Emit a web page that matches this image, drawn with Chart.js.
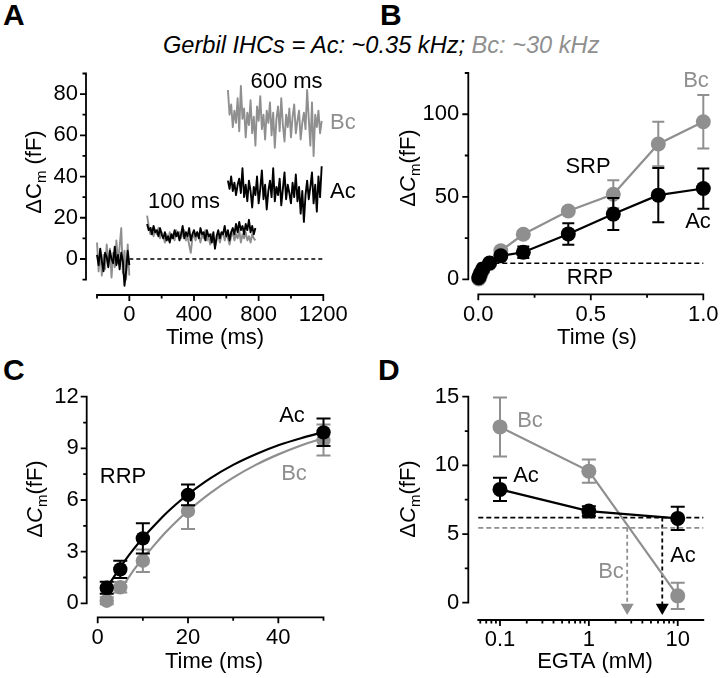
<!DOCTYPE html>
<html><head><meta charset="utf-8">
<script src="https://cdn.jsdelivr.net/npm/chart.js@4.4.0/dist/chart.umd.min.js"></script>
<style>
html,body{margin:0;padding:0;background:#fff;}
#wrap{position:relative;width:720px;height:678px;overflow:hidden;font-family:'Liberation Sans',Arial,sans-serif;}
canvas{position:absolute;left:0;top:0;}
.lab{position:absolute;font-weight:bold;font-size:30px;line-height:30px;color:#000;}
#hdr{position:absolute;left:163px;top:33px;font-style:italic;font-size:23.6px;line-height:24px;white-space:nowrap;color:#000;}
</style></head>
<body><div id="wrap">
<div id="hdr">Gerbil IHCs = Ac: ~0.35 kHz; <span style="color:#8f8f8f">Bc: ~30 kHz</span></div>
<div class="lab" style="left:3px;top:0px">A</div>
<div class="lab" style="left:380px;top:0px">B</div>
<div class="lab" style="left:3px;top:355px">C</div>
<div class="lab" style="left:378px;top:355px">D</div>
<canvas id="cA" width="720" height="678"></canvas>
<canvas id="cB" width="720" height="678"></canvas>
<canvas id="cC" width="720" height="678"></canvas>
<canvas id="cD" width="720" height="678"></canvas>
</div>
<script>
const FONT = "'Liberation Sans', Arial, sans-serif";
const FS = 22;
const BLACK = '#000000';
const GRAY = '#8f8f8f';

// ---------- Panel A : capacitance traces ----------
const aBaseT = [-200,-190,-180,-170,-160,-150,-140,-130,-120,-110,-100,-90,-80,-70,-60,-50,-40,-30,-20,-10,0];
const aBaseAc = [2,-3,5,-1,-6,3,1,-4,4,0,-2,6,-3,2,-5,3,-1,-13,-6,4,-3];
const aBaseBc = [8,-6,4,-8,2,-5,7,-3,5,-9,3,-4,9,-2,6,15,-7,4,-10,7,-8];
const a100T = [110,120,130,140,150,160,170,180,190,200,210,220,230,240,250,260,270,280,290,300,310,320,330,340,350,360,370,380,390,400,410,420,430,440,450,460,470,480,490,500,510,520,530,540,550,560,570,580,590,600,610,620,630,640,650,660,670,680,690,700,710,720,730,740,750,760,770,780];
const a100Ac = [17,14,15,12,16,13,14,11,15,12,10,13,9,11,8,12,10,14,11,13,9,12,16,10,13,11,15,9,12,14,11,13,10,15,12,13,9,14,11,12,8,13,5,11,14,10,13,12,16,11,14,9,13,15,12,17,13,18,14,16,12,17,14,19,13,16,12,15];
const a100Bc = [21,16,12,15,11,14,12,15,10,13,11,8,12,9,13,10,12,9,14,11,13,10,12,14,9,11,7,3,10,12,9,13,11,8,12,10,14,9,11,7,12,10,6,9,12,8,11,13,9,12,10,7,11,13,9,12,10,14,8,12,10,13,9,11,8,12,10,9];
const a600T = [610,620,630,640,650,660,670,680,690,700,710,720,730,740,750,760,770,780,790,800,810,820,830,840,850,860,870,880,890,900,910,920,930,940,950,960,970,980,990,1000,1010,1020,1030,1040,1050,1060,1070,1080,1090,1100,1110,1120,1130,1140,1150,1160,1170,1180,1190];
const a600Ac = [38,34,40,33,37,31,36,39,32,44,30,36,28,38,33,25,35,31,40,27,34,43,29,36,24,33,38,30,44,28,35,31,39,26,34,42,29,36,32,27,37,30,41,28,35,22,33,18,31,38,29,35,42,27,36,23,40,30,45];
const a600Bc = [82,70,75,64,72,66,78,62,84,68,73,59,71,65,77,61,69,55,74,67,79,63,70,58,72,66,76,60,71,54,68,74,62,78,65,57,70,64,73,59,69,75,61,67,72,58,66,71,63,82,68,55,76,50,70,64,72,61,67];
const aZeroLine = [0,1200];
const aXRange = [-200,1200], aYRange = [-10,90];
const aXTicks = [0,400,800,1200], aXLabels = ['0','400','800','1200'], aXMinor = [-200,200,600,1000];
const aYTicks = [0,20,40,60,80], aYLabels = ['0','20','40','60','80'], aYMinor = [-10,10,30,50,70,90];

// ---------- Panel B : exocytosis vs duration ----------
const bT = [0.002,0.005,0.01,0.02,0.05,0.1,0.2,0.4,0.6,0.8,1.0];
const bAc = [0.9,1.9,3.8,6.3,9.9,14.2,16.4,27.5,39.5,51,55];
const bAcErr = [0.35,0.5,0.9,0.6,0.8,2,3.5,6.5,9.7,16.5,12.2];
const bBc = [0.2,0.9,2.5,5.4,9.5,17.3,27.3,41.4,51.5,82,95.5];
const bBcErr = [0.2,0.3,0.65,1.05,0.9,2,2,2,8.5,13.5,16.2];
const bRRP = 9.8;
const bXRange = [0,1], bYRange = [0,125];
const bXTicks = [0,0.5,1], bXLabels = ['0.0','0.5','1.0'], bXMinor = [0.25,0.75];
const bYTicks = [0,50,100], bYLabels = ['0','50','100'], bYMinor = [25,75,125];

// ---------- Panel C : RRP ----------
const cT = [2,5,10,20,50];
const cAc = [0.9,1.97,3.77,6.3,9.93];
const cAcErr = [0.35,0.5,0.88,0.6,0.8];
const cBc = [0.15,0.93,2.47,5.36,9.48];
const cBcErr = [0.2,0.3,0.65,1.05,0.9];
const cFitAcT = [2.5,4,6,8,10,12,15,18,20,25,30,35,40,45,50];
const cFitAc = [1.10,1.70,2.47,3.16,3.79,4.37,5.19,5.90,6.33,7.27,8.04,8.66,9.18,9.59,9.94];
const cFitBcT = [4.5,6,8,10,12,15,18,20,25,30,35,40,45,50];
const cFitBc = [0.85,1.19,1.94,2.61,3.22,4.11,4.90,5.37,6.42,7.30,8.04,8.65,9.17,9.60];
const cXRange = [0,50], cYRange = [0,12];
const cXTicks = [0,20,40], cXLabels = ['0','20','40'], cXMinor = [10,30,50];
const cYTicks = [0,3,6,9,12], cYLabels = ['0','3','6','9','12'], cYMinor = [1.5,4.5,7.5,10.5];

// ---------- Panel D : EGTA ----------
const dEGTA = [0.1,1,10];
const dAc = [8.25,6.67,6.14];
const dAcErr = [0.85,0.35,0.85];
const dBc = [12.8,9.58,0.5];
const dBcErr = [2.15,0.85,0.95];
const dAcLevel = 6.2, dBcLevel = 5.45;
const dAcArrowX = 6.7, dBcArrowX = 2.7;
const dArrowEnd = -0.1, dArrowHead = -0.35;
const dXRange = [0.057,19.4], dYRange = [0,15];
const dXTicks = [0.1,1,10], dXLabels = ['0.1','1','10'];
const dXMinor = [0.06,0.07,0.08,0.09,0.2,0.3,0.4,0.5,0.6,0.7,0.8,0.9,2,3,4,5,6,7,8,9];
const dYTicks = [0,5,10,15], dYLabels = ['0','5','10','15'], dYMinor = [2.5,7.5,12.5];

// ---------- helpers ----------
function pts(xs, ys){ return xs.map((x,i)=>({x:x, y:ys[i]})); }

function scaleCfg(o){
  return {
    type: o.type || 'linear', min: o.range[0], max: o.range[1],
    grid: {display:false, drawTicks:false}, border: {display:false},
    ticks: { padding: o.padding, color:'#000', font:{family:FONT, size:FS}, maxRotation:0, minRotation:0, autoSkip:false,
      callback: (v, i) => (o.labels[i] !== undefined ? o.labels[i] : '') },
    afterBuildTicks: (s) => { s.ticks = o.ticks.map(v => ({value:v})); },
    afterFit: (s) => {
      if (o.axis === 'x') s.height = o.size; else s.width = o.size;
      s.paddingLeft = 0; s.paddingRight = 0; s.paddingTop = 0; s.paddingBottom = 0;
    }
  };
}

function axesPlugin(o){
  return { id:'detAxes', afterDraw(chart){
    const ctx = chart.ctx, xs = chart.scales.x, ys = chart.scales.y, ca = chart.chartArea;
    const yx = ca.left - o.yGap, xy = ca.bottom + o.xGap;
    ctx.save(); ctx.strokeStyle = '#000'; ctx.lineWidth = 1.8; ctx.lineCap = 'butt';
    ctx.beginPath();
    ctx.moveTo(yx, ys.getPixelForValue(ys.min) + 0.9); ctx.lineTo(yx, ys.getPixelForValue(ys.max) - 0.9);
    o.yMajor.forEach(v => { const p = ys.getPixelForValue(v); ctx.moveTo(yx, p); ctx.lineTo(yx - 6, p); });
    o.yMinor.forEach(v => { const p = ys.getPixelForValue(v); ctx.moveTo(yx, p); ctx.lineTo(yx - 3.5, p); });
    ctx.moveTo(xs.getPixelForValue(xs.min) - 0.9, xy); ctx.lineTo(xs.getPixelForValue(xs.max) + 0.9, xy);
    o.xMajor.forEach(v => { const p = xs.getPixelForValue(v); ctx.moveTo(p, xy); ctx.lineTo(p, xy + 6); });
    o.xMinor.forEach(v => { const p = xs.getPixelForValue(v); ctx.moveTo(p, xy); ctx.lineTo(p, xy + 3.5); });
    ctx.stroke(); ctx.restore();
  }};
}

function errPlugin(list){
  return { id:'errBars', beforeDatasetDraw(chart, args){
    const e = list.find(l => l.ds === args.index); if (!e) return;
    const meta = chart.getDatasetMeta(args.index), ys = chart.scales.y, ctx = chart.ctx;
    const data = chart.data.datasets[args.index].data;
    ctx.save(); ctx.strokeStyle = e.color; ctx.lineWidth = 2;
    meta.data.forEach((pt, i) => {
      const v = data[i].y, er = e.err[i]; if (!er) return;
      const y1 = ys.getPixelForValue(v + er), y2 = ys.getPixelForValue(v - er);
      ctx.beginPath();
      ctx.moveTo(pt.x, y1); ctx.lineTo(pt.x, y2);
      ctx.moveTo(pt.x - e.cap, y1); ctx.lineTo(pt.x + e.cap, y1);
      ctx.moveTo(pt.x - e.cap, y2); ctx.lineTo(pt.x + e.cap, y2);
      ctx.stroke();
    });
    ctx.restore();
  }};
}

function textPlugin(items, yt){
  return { id:'texts', afterDraw(chart){
    const ctx = chart.ctx; ctx.save(); ctx.textBaseline = 'middle';
    items.forEach(t => {
      ctx.font = (t.size || FS) + 'px ' + FONT; ctx.fillStyle = t.color || '#000';
      ctx.textAlign = t.align || 'center'; ctx.fillText(t.text, t.x, t.y);
    });
    const parts = [
      {t:'\u0394', f:FS + 'px ' + FONT, dy:0},
      {t:'C', f:(yt.italic ? 'italic ' : '') + FS + 'px ' + FONT, dy:0},
      {t:'m', f:'15px ' + FONT, dy:5},
      {t:(yt.space ? ' ' : '') + '(fF)', f:FS + 'px ' + FONT, dy:0}
    ];
    ctx.translate(yt.x, yt.y); ctx.rotate(-Math.PI/2);
    let w = 0; parts.forEach(p => { ctx.font = p.f; p.w = ctx.measureText(p.t).width; w += p.w; });
    let cx = -w/2; ctx.textAlign = 'left'; ctx.textBaseline = 'alphabetic'; ctx.fillStyle = '#000';
    parts.forEach(p => { ctx.font = p.f; ctx.fillText(p.t, cx, 8 + p.dy); cx += p.w; });
    ctx.restore();
  }};
}

function baseOptions(pad, xs, ys){
  return {
    responsive:false, animation:false, events:[],
    layout:{padding:pad, autoPadding:false},
    plugins:{legend:{display:false}, tooltip:{enabled:false}, title:{display:false}},
    scales:{x:xs, y:ys}
  };
}

function lineDs(data, color, extra){
  return Object.assign({data:data, showLine:true, borderColor:color, backgroundColor:color,
    borderWidth:1.9, pointRadius:0, tension:0, clip:false, borderJoinStyle:'round'}, extra || {});
}
function markDs(data, color, r, line){
  return {data:data, showLine:line, borderColor:color, backgroundColor:color, borderWidth:2.2,
    pointRadius:r, pointBorderWidth:0, pointBackgroundColor:color, tension:0, clip:false};
}

// ---------- Chart A ----------
new Chart(document.getElementById('cA'), {
  type:'scatter',
  data:{datasets:[
    lineDs(pts(aBaseT, aBaseAc), BLACK),
    lineDs(pts(a100T, a100Ac), BLACK),
    lineDs(pts(a600T, a600Ac), BLACK),
    lineDs(pts(aBaseT, aBaseBc), GRAY),
    lineDs(pts(a100T, a100Bc), GRAY),
    lineDs(pts(a600T, a600Bc), GRAY),
    lineDs(aZeroLine.map(x => ({x:x, y:0})), BLACK, {borderWidth:1.5, borderDash:[4,3]})
  ]},
  options: baseOptions({left:0, right:396.7, top:73.5, bottom:348.4},
    scaleCfg({axis:'x', range:aXRange, ticks:aXTicks, labels:aXLabels, padding:22.2, size:50}),
    scaleCfg({axis:'y', range:aYRange, ticks:aYTicks, labels:aYLabels, padding:19, size:97})),
  plugins:[
    axesPlugin({yGap:11, xGap:15.4, yMajor:aYTicks, yMinor:aYMinor, xMajor:aXTicks, xMinor:aXMinor}),
    textPlugin([
      {text:'600 ms', x:286.5, y:82},
      {text:'Bc', x:330, y:123, align:'left', color:GRAY},
      {text:'Ac', x:330, y:192, align:'left'},
      {text:'100 ms', x:184, y:202},
      {text:'Time (ms)', x:215, y:338}
    ], {x:33, y:172, italic:false, space:true})
  ]
});

// ---------- Chart B ----------
new Chart(document.getElementById('cB'), {
  type:'scatter',
  data:{datasets:[
    markDs(pts(bT, bAc), BLACK, 7.5, true),
    markDs(pts(bT, bBc), GRAY, 7.5, true),
    lineDs(bXRange.map(x => ({x:x, y:bRRP})), BLACK, {borderWidth:1.5, borderDash:[5,3]})
  ]},
  options: baseOptions({left:418.3, right:16.7, top:73, bottom:348.7},
    scaleCfg({axis:'x', range:bXRange, ticks:bXTicks, labels:bXLabels, padding:22.5, size:50}),
    scaleCfg({axis:'y', range:bYRange, ticks:bYTicks, labels:bYLabels, padding:19, size:60})),
  plugins:[
    errPlugin([{ds:0, err:bAcErr, color:BLACK, cap:6}, {ds:1, err:bBcErr, color:GRAY, cap:6}]),
    axesPlugin({yGap:10, xGap:15, yMajor:bYTicks, yMinor:bYMinor, xMajor:bXTicks, xMinor:bXMinor}),
    textPlugin([
      {text:'Bc', x:696, y:81, color:GRAY},
      {text:'SRP', x:588, y:167},
      {text:'Ac', x:698, y:222},
      {text:'RRP', x:590, y:278},
      {text:'Time (s)', x:597, y:338}
    ], {x:407, y:168, italic:true, space:false})
  ]
});

// ---------- Chart C ----------
new Chart(document.getElementById('cC'), {
  type:'scatter',
  data:{datasets:[
    markDs(pts(cT, cAc), BLACK, 7.2, false),
    lineDs(pts(cFitAcT, cFitAc), BLACK, {borderWidth:2.2, cubicInterpolationMode:'monotone'}),
    markDs(pts(cT, cBc), GRAY, 7.2, false),
    lineDs(pts(cFitBcT, cFitBc), GRAY, {borderWidth:2.2, cubicInterpolationMode:'monotone'})
  ]},
  options: baseOptions({left:0, right:396.5, top:396.7, bottom:24.7},
    scaleCfg({axis:'x', range:cXRange, ticks:cXTicks, labels:cXLabels, padding:21.5, size:50}),
    scaleCfg({axis:'y', range:cYRange, ticks:cYTicks, labels:cYLabels, padding:19, size:97.7})),
  plugins:[
    errPlugin([{ds:0, err:cAcErr, color:BLACK, cap:7}, {ds:2, err:cBcErr, color:GRAY, cap:7}]),
    axesPlugin({yGap:11, xGap:14, yMajor:cYTicks, yMinor:cYMinor, xMajor:cXTicks, xMinor:cXMinor}),
    textPlugin([
      {text:'Ac', x:292, y:416},
      {text:'Bc', x:294, y:474, color:GRAY},
      {text:'RRP', x:123, y:477},
      {text:'Time (ms)', x:214, y:662}
    ], {x:34, y:499, italic:true, space:false})
  ]
});

// ---------- Chart D ----------
new Chart(document.getElementById('cD'), {
  type:'scatter',
  data:{datasets:[
    markDs(pts(dEGTA, dAc), BLACK, 7.5, true),
    markDs(pts(dEGTA, dBc), GRAY, 7.5, true),
    lineDs(dXRange.map(x => ({x:x, y:dAcLevel})), BLACK, {borderWidth:1.8, borderDash:[5,3]}),
    lineDs(dXRange.map(x => ({x:x, y:dBcLevel})), GRAY, {borderWidth:1.8, borderDash:[5,3]}),
    lineDs([{x:dAcArrowX, y:dAcLevel}, {x:dAcArrowX, y:dArrowEnd}], BLACK, {borderWidth:1.8, borderDash:[4,3]}),
    lineDs([{x:dBcArrowX, y:dBcLevel}, {x:dBcArrowX, y:dArrowEnd}], GRAY, {borderWidth:1.8, borderDash:[4,3]}),
    {data:[{x:dAcArrowX, y:dArrowHead}], showLine:false, pointStyle:'triangle', rotation:180, pointRadius:7.5,
      pointBorderWidth:0, pointBackgroundColor:BLACK, backgroundColor:BLACK, borderColor:BLACK, clip:false},
    {data:[{x:dBcArrowX, y:dArrowHead}], showLine:false, pointStyle:'triangle', rotation:180, pointRadius:7.5,
      pointBorderWidth:0, pointBackgroundColor:GRAY, backgroundColor:GRAY, borderColor:GRAY, clip:false}
  ]},
  options: baseOptions({left:418.3, right:16.7, top:396.7, bottom:25.3},
    scaleCfg({axis:'x', type:'logarithmic', range:dXRange, ticks:dXTicks, labels:dXLabels, padding:24.1, size:50}),
    scaleCfg({axis:'y', range:dYRange, ticks:dYTicks, labels:dYLabels, padding:19, size:60})),
  plugins:[
    errPlugin([{ds:0, err:dAcErr, color:BLACK, cap:7}, {ds:1, err:dBcErr, color:GRAY, cap:7}]),
    axesPlugin({yGap:10, xGap:17.3, yMajor:dYTicks, yMinor:dYMinor, xMajor:dXTicks, xMinor:dXMinor}),
    textPlugin([
      {text:'Bc', x:530, y:421, color:GRAY},
      {text:'Ac', x:526, y:476},
      {text:'Ac', x:683, y:556},
      {text:'Bc', x:611, y:572, color:GRAY},
      {text:'EGTA (mM)', x:595, y:662}
    ], {x:407, y:499, italic:true, space:false})
  ]
});
</script>
</body></html>
